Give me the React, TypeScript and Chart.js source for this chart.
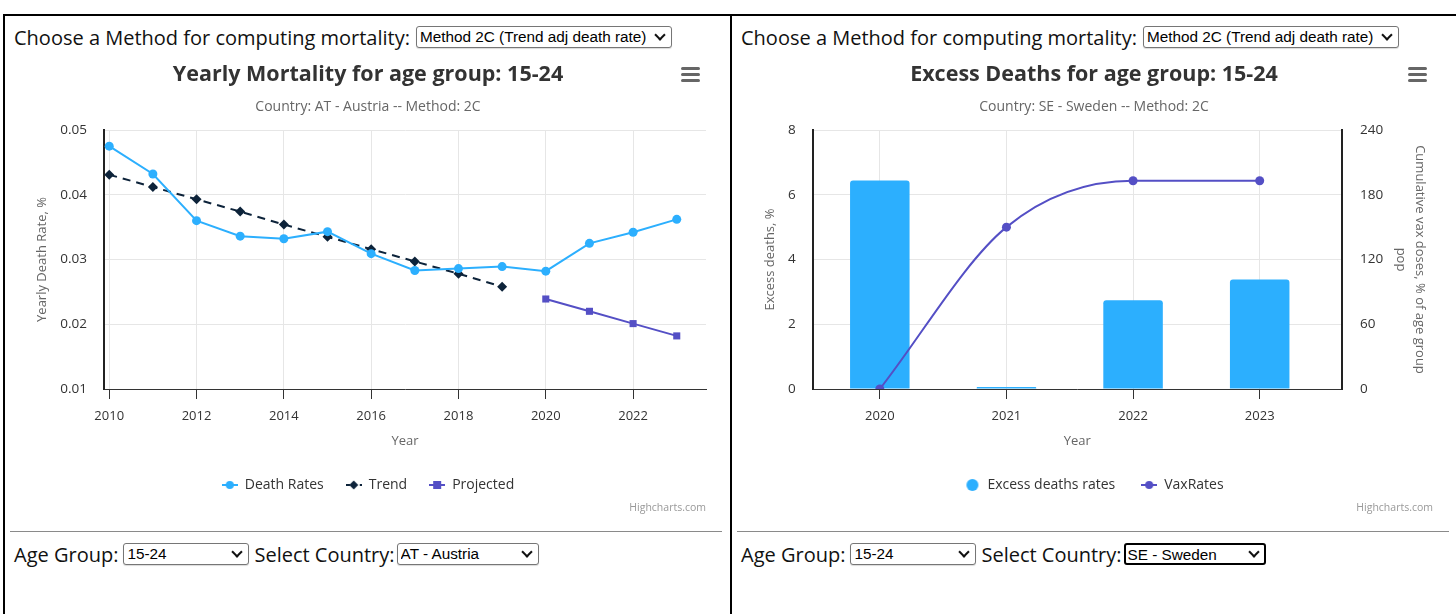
import React, { useEffect, useRef } from "react";
import { Chart, registerables } from "chart.js";

Chart.register(...registerables);

// ---------- Data: left chart (Yearly Mortality, AT - Austria) ----------
const mortYears = [2010, 2011, 2012, 2013, 2014, 2015, 2016, 2017, 2018, 2019, 2020, 2021, 2022, 2023];
const deathRates = [0.0475, 0.0432, 0.036, 0.0336, 0.0332, 0.0343, 0.0309, 0.0283, 0.0286, 0.0289, 0.0282, 0.0325, 0.0342, 0.0362];
const trendYears = [2010, 2011, 2012, 2013, 2014, 2015, 2016, 2017, 2018, 2019];
const trendRates = [0.0431, 0.0412, 0.0393, 0.0374, 0.0354, 0.0335, 0.0316, 0.0297, 0.0278, 0.0258];
const projYears = [2020, 2021, 2022, 2023];
const projRates = [0.0239, 0.022, 0.0201, 0.0182];
const mortXTicks = [2010, 2012, 2014, 2016, 2018, 2020, 2022];
const mortYTicks = [0.01, 0.02, 0.03, 0.04, 0.05];

// ---------- Data: right chart (Excess Deaths, SE - Sweden) ----------
const excessYears = [2020, 2021, 2022, 2023];
const excessDeaths = [6.44, 0.06, 2.74, 3.38];
const vaxRates = [0, 150, 193, 193];
const excessYTicks = [0, 2, 4, 6, 8];
const vaxYTicks = [0, 60, 120, 180, 240];

const FONT = '"Open Sans", "Noto Sans", sans-serif';
const SELECT_FONT = '"Liberation Sans", Arial, sans-serif';

const C_DEATH = "#2caffe";
const C_TREND = "#0d233a";
const C_PROJ = "#544fc5";

const TITLE_FONT = { family: FONT, size: 21.5, weight: "bold", lineHeight: 1.2 };
const TITLE_PAD = { top: 9.5, bottom: 9.4 };
const SUB_FONT = { family: FONT, size: 14, lineHeight: 1.2 };
const SUB_PAD = { top: 1.5, bottom: 15 };

function makeIcon(color: string, marker: string, withLine: boolean, dashed = false) {
  const c = document.createElement("canvas");
  c.width = 16;
  c.height = 12;
  const g = c.getContext("2d")!;
  g.strokeStyle = color;
  g.fillStyle = color;
  if (withLine) {
    g.lineWidth = 2;
    if (dashed) g.setLineDash([4, 3]);
    g.beginPath();
    g.moveTo(0, 6);
    g.lineTo(16, 6);
    g.stroke();
    g.setLineDash([]);
  }
  g.beginPath();
  if (marker === "circle") {
    g.arc(8, 6, withLine ? 4 : 6, 0, Math.PI * 2);
  } else if (marker === "diamond") {
    g.moveTo(8, 1.5);
    g.lineTo(12.5, 6);
    g.lineTo(8, 10.5);
    g.lineTo(3.5, 6);
    g.closePath();
  } else {
    g.rect(4, 2, 8, 8);
  }
  g.fill();
  return c;
}

function setTicks(values: number[]) {
  return (axis: any) => {
    axis.ticks = values.map((v) => ({ value: v }));
  };
}

function MortalityChart() {
  const ref = useRef<HTMLCanvasElement>(null);
  useEffect(() => {
    const icons = [
      makeIcon(C_DEATH, "circle", true),
      makeIcon(C_TREND, "diamond", true, true),
      makeIcon(C_PROJ, "square", true),
    ];
    const chart = new Chart(ref.current!, {
      type: "line",
      data: {
        datasets: [
          {
            label: "Death Rates",
            data: mortYears.map((x, i) => ({ x, y: deathRates[i] })),
            borderColor: C_DEATH,
            backgroundColor: C_DEATH,
            borderWidth: 2,
            pointStyle: "circle",
            pointRadius: 4.5,
            pointBorderWidth: 0,
          },
          {
            label: "Trend",
            data: trendYears.map((x, i) => ({ x, y: trendRates[i] })),
            borderColor: C_TREND,
            backgroundColor: C_TREND,
            borderWidth: 2,
            borderDash: [8, 6],
            pointStyle: "rectRot",
            pointRadius: 5,
            pointBorderWidth: 0,
          },
          {
            label: "Projected",
            data: projYears.map((x, i) => ({ x, y: projRates[i] })),
            borderColor: C_PROJ,
            backgroundColor: C_PROJ,
            borderWidth: 2,
            pointStyle: "rect",
            pointRadius: 5,
            pointBorderWidth: 0,
          },
        ],
      },
      options: {
        animation: false,
        responsive: false,
        layout: { padding: { left: 25, right: 25, top: 0, bottom: 0 } },
        plugins: {
          tooltip: { enabled: false },
          title: {
            display: true,
            text: "Yearly Mortality for age group: 15-24",
            color: "#333333",
            font: TITLE_FONT,
            padding: TITLE_PAD,
          },
          subtitle: {
            display: true,
            text: "Country: AT - Austria -- Method: 2C",
            color: "#666666",
            font: SUB_FONT,
            padding: SUB_PAD,
          },
          legend: {
            position: "bottom",
            labels: {
              usePointStyle: true,
              pointStyleWidth: 16,
              padding: 22,
              color: "#333333",
              font: { family: FONT, size: 14 },
              generateLabels: (ch: any) =>
                ch.data.datasets.map((ds: any, i: number) => ({
                  text: ds.label,
                  pointStyle: icons[i],
                  datasetIndex: i,
                  hidden: false,
                  fillStyle: ds.borderColor,
                  strokeStyle: ds.borderColor,
                  lineWidth: 0,
                  fontColor: "#333333",
                })),
            },
          },
        },
        scales: {
          x: {
            type: "linear",
            min: 2009.88,
            max: 2023.67,
            afterBuildTicks: setTicks(mortXTicks),
            afterFit: (s: any) => {
              s.height = 67;
            },
            ticks: {
              color: "#333333",
              font: { family: FONT, size: 13 },
              padding: 9,
              maxRotation: 0,
              autoSkip: false,
              callback: (v: any) => String(v),
            },
            grid: { color: "#e6e6e6", tickColor: "#333333", tickLength: 10, drawTicks: true },
            border: { color: "#333333", width: 1 },
            title: {
              display: true,
              text: "Year",
              color: "#666666",
              font: { family: FONT, size: 13, lineHeight: 1.2 },
              padding: { top: 0, bottom: 7 },
            },
          },
          y: {
            min: 0.01,
            max: 0.05,
            afterBuildTicks: setTicks(mortYTicks),
            afterFit: (s: any) => {
              s.width = 74;
            },
            ticks: {
              color: "#333333",
              font: { family: FONT, size: 13.5 },
              padding: 17,
              callback: (v: any) => Number(v).toFixed(2),
            },
            grid: { color: "#e6e6e6", drawTicks: false },
            border: { color: "#222222", width: 2 },
            title: {
              display: true,
              text: "Yearly Death Rate, %",
              color: "#666666",
              font: { family: FONT, size: 13, lineHeight: 1.2 },
              padding: { top: 4, bottom: 0 },
            },
          },
        },
      },
    } as any);
    return () => chart.destroy();
  }, []);
  return <canvas ref={ref} width={726} height={450} />;
}

function ExcessChart() {
  const ref = useRef<HTMLCanvasElement>(null);
  useEffect(() => {
    const icons = [makeIcon(C_DEATH, "circle", false), makeIcon(C_PROJ, "circle", true)];
    const chart = new Chart(ref.current!, {
      type: "bar",
      data: {
        datasets: [
          {
            type: "bar",
            label: "Excess deaths rates",
            data: excessYears.map((x, i) => ({ x, y: excessDeaths[i] })),
            backgroundColor: C_DEATH,
            borderWidth: 0,
            borderRadius: 3,
            borderSkipped: "bottom",
            barPercentage: 1,
            categoryPercentage: 0.47,
            yAxisID: "y",
            order: 2,
          },
          {
            type: "line",
            label: "VaxRates",
            data: excessYears.map((x, i) => ({ x, y: vaxRates[i] })),
            borderColor: C_PROJ,
            backgroundColor: C_PROJ,
            borderWidth: 2,
            pointRadius: 4.5,
            pointBorderWidth: 0,
            cubicInterpolationMode: "monotone",
            yAxisID: "y1",
            order: 1,
          },
        ],
      },
      options: {
        animation: false,
        responsive: false,
        layout: { padding: { left: 20, right: 20, top: 0, bottom: 0 } },
        plugins: {
          tooltip: { enabled: false },
          title: {
            display: true,
            text: "Excess Deaths for age group: 15-24",
            color: "#333333",
            font: TITLE_FONT,
            padding: TITLE_PAD,
          },
          subtitle: {
            display: true,
            text: "Country: SE - Sweden -- Method: 2C",
            color: "#666666",
            font: SUB_FONT,
            padding: SUB_PAD,
          },
          legend: {
            position: "bottom",
            labels: {
              usePointStyle: true,
              pointStyleWidth: 16,
              padding: 26,
              color: "#333333",
              font: { family: FONT, size: 14 },
              generateLabels: (ch: any) =>
                ch.data.datasets.map((ds: any, i: number) => ({
                  text: ds.label,
                  pointStyle: icons[i],
                  datasetIndex: i,
                  hidden: false,
                  fillStyle: ds.backgroundColor,
                  strokeStyle: ds.backgroundColor,
                  lineWidth: 0,
                  fontColor: "#333333",
                })),
            },
          },
        },
        scales: {
          x: {
            type: "linear",
            min: 2019.47,
            max: 2023.65,
            offset: false,
            afterBuildTicks: setTicks(excessYears),
            afterFit: (s: any) => {
              s.height = 63;
            },
            ticks: {
              color: "#333333",
              font: { family: FONT, size: 13 },
              padding: 9,
              maxRotation: 0,
              autoSkip: false,
              callback: (v: any) => String(v),
            },
            grid: { color: "#e6e6e6", tickColor: "#333333", tickLength: 10, drawTicks: true, offset: false },
            border: { color: "#333333", width: 1 },
            title: {
              display: true,
              text: "Year",
              color: "#666666",
              font: { family: FONT, size: 13, lineHeight: 1.2 },
              padding: { top: 0, bottom: 3 },
            },
          },
          y: {
            position: "left",
            min: 0,
            max: 8,
            afterBuildTicks: setTicks(excessYTicks),
            afterFit: (s: any) => {
              s.width = 60.7;
            },
            ticks: {
              color: "#333333",
              font: { family: FONT, size: 13.5 },
              padding: 17,
              callback: (v: any) => String(v),
            },
            grid: { color: "#e6e6e6", drawTicks: false },
            border: { color: "#222222", width: 2 },
            title: {
              display: true,
              text: "Excess deaths, %",
              color: "#666666",
              font: { family: FONT, size: 13, lineHeight: 1.2 },
              padding: { top: 10, bottom: 0 },
            },
          },
          y1: {
            position: "right",
            min: 0,
            max: 240,
            afterBuildTicks: setTicks(vaxYTicks),
            afterFit: (s: any) => {
              s.width = 94;
            },
            ticks: {
              color: "#333333",
              font: { family: FONT, size: 13.5 },
              padding: 18,
              callback: (v: any) => String(v),
            },
            grid: { drawOnChartArea: false, drawTicks: false },
            border: { color: "#222222", width: 2 },
            title: {
              display: true,
              text: ["Cumulative vax doses, % of age group", "pop"],
              color: "#666666",
              font: { family: FONT, size: 13, lineHeight: 1.45 },
              padding: { top: 6.6, bottom: 0 },
            },
          },
        },
      },
    } as any);
    return () => chart.destroy();
  }, []);
  return <canvas ref={ref} width={724} height={450} />;
}

const labelStyle: React.CSSProperties = {
  fontFamily: FONT,
  fontSize: 20,
  color: "#111",
  whiteSpace: "nowrap",
};

function Select({ width, value, focused = false }: { width: number; value: string; focused?: boolean }) {
  return (
    <div style={{ position: "relative", width, height: 22, flex: "none" }}>
      <select
        defaultValue={value}
        style={{
          appearance: "none",
          WebkitAppearance: "none",
          width,
          height: 22,
          fontFamily: SELECT_FONT,
          fontSize: 15.3,
          lineHeight: "20px",
          color: "#000",
          background: "#fff",
          border: focused ? "2px solid #000" : "1px solid #767676",
          borderRadius: 3,
          padding: focused ? "0 0 0 2px" : "0 0 0 3px",
          margin: 0,
          boxSizing: "border-box",
          boxShadow: focused ? "none" : "0 1px 1px rgba(0,0,0,0.15)",
          outline: "none",
        }}
      >
        <option value={value}>{value}</option>
      </select>
      <div
        style={{
          position: "absolute",
          right: 8,
          top: 5,
          width: 6,
          height: 6,
          borderRight: "2px solid #111",
          borderBottom: "2px solid #111",
          transform: "rotate(45deg)",
          pointerEvents: "none",
        }}
      />
    </div>
  );
}

function Hamburger({ left, top }: { left: number; top: number }) {
  const bar = (t: number): React.CSSProperties => ({
    position: "absolute",
    left: 0,
    top: t,
    width: 19,
    height: 3,
    borderRadius: 1.5,
    background: "#666",
  });
  return (
    <div style={{ position: "absolute", left, top, width: 19, height: 16 }}>
      <div style={bar(0)} />
      <div style={bar(6)} />
      <div style={bar(12)} />
    </div>
  );
}

function Panel({ x0, chart, country, focused }: { x0: number; chart: React.ReactNode; country: string; focused: boolean }) {
  return (
    <>
      <div style={{ position: "absolute", left: x0 + 14, top: 26, height: 22, display: "flex", alignItems: "center", gap: 6 }}>
        <span style={labelStyle}>Choose a Method for computing mortality:</span>
        <Select width={256} value="Method 2C (Trend adj death rate)" />
      </div>
      <div style={{ position: "absolute", left: x0 + 5, top: 52 }}>{chart}</div>
      <Hamburger left={x0 + 681} top={67} />
      <div
        style={{
          position: "absolute",
          left: x0 + 560,
          width: 146,
          top: 500,
          textAlign: "right",
          fontFamily: FONT,
          fontSize: 10.5,
          color: "#999",
          whiteSpace: "nowrap",
        }}
      >
        Highcharts.com
      </div>
      <div style={{ position: "absolute", left: x0 + 10, top: 531, width: 712, height: 1, background: "#8a8a8a" }} />
      <div style={{ position: "absolute", left: x0 + 14, top: 543, height: 22, display: "flex", alignItems: "center", gap: 5 }}>
        <span style={labelStyle}>Age Group:</span>
        <Select width={126} value="15-24" />
        <span style={{ ...labelStyle, marginRight: -3 }}>Select Country:</span>
        <Select width={142} value={country} focused={focused} />
      </div>
    </>
  );
}

export default function App() {
  return (
    <div
      style={{
        position: "absolute",
        left: 0,
        top: 0,
        width: 1456,
        height: 614,
        background: "#fff",
        overflow: "hidden",
      }}
    >
      <div style={{ position: "absolute", left: 3, top: 14, width: 1453, height: 2, background: "#000" }} />
      <div style={{ position: "absolute", left: 3, top: 14, width: 2, height: 600, background: "#000" }} />
      <div style={{ position: "absolute", left: 730, top: 14, width: 2, height: 600, background: "#000" }} />
      <Panel x0={0} chart={<MortalityChart />} country="AT - Austria" focused={false} />
      <Panel x0={727} chart={<ExcessChart />} country="SE - Sweden" focused={true} />
    </div>
  );
}
